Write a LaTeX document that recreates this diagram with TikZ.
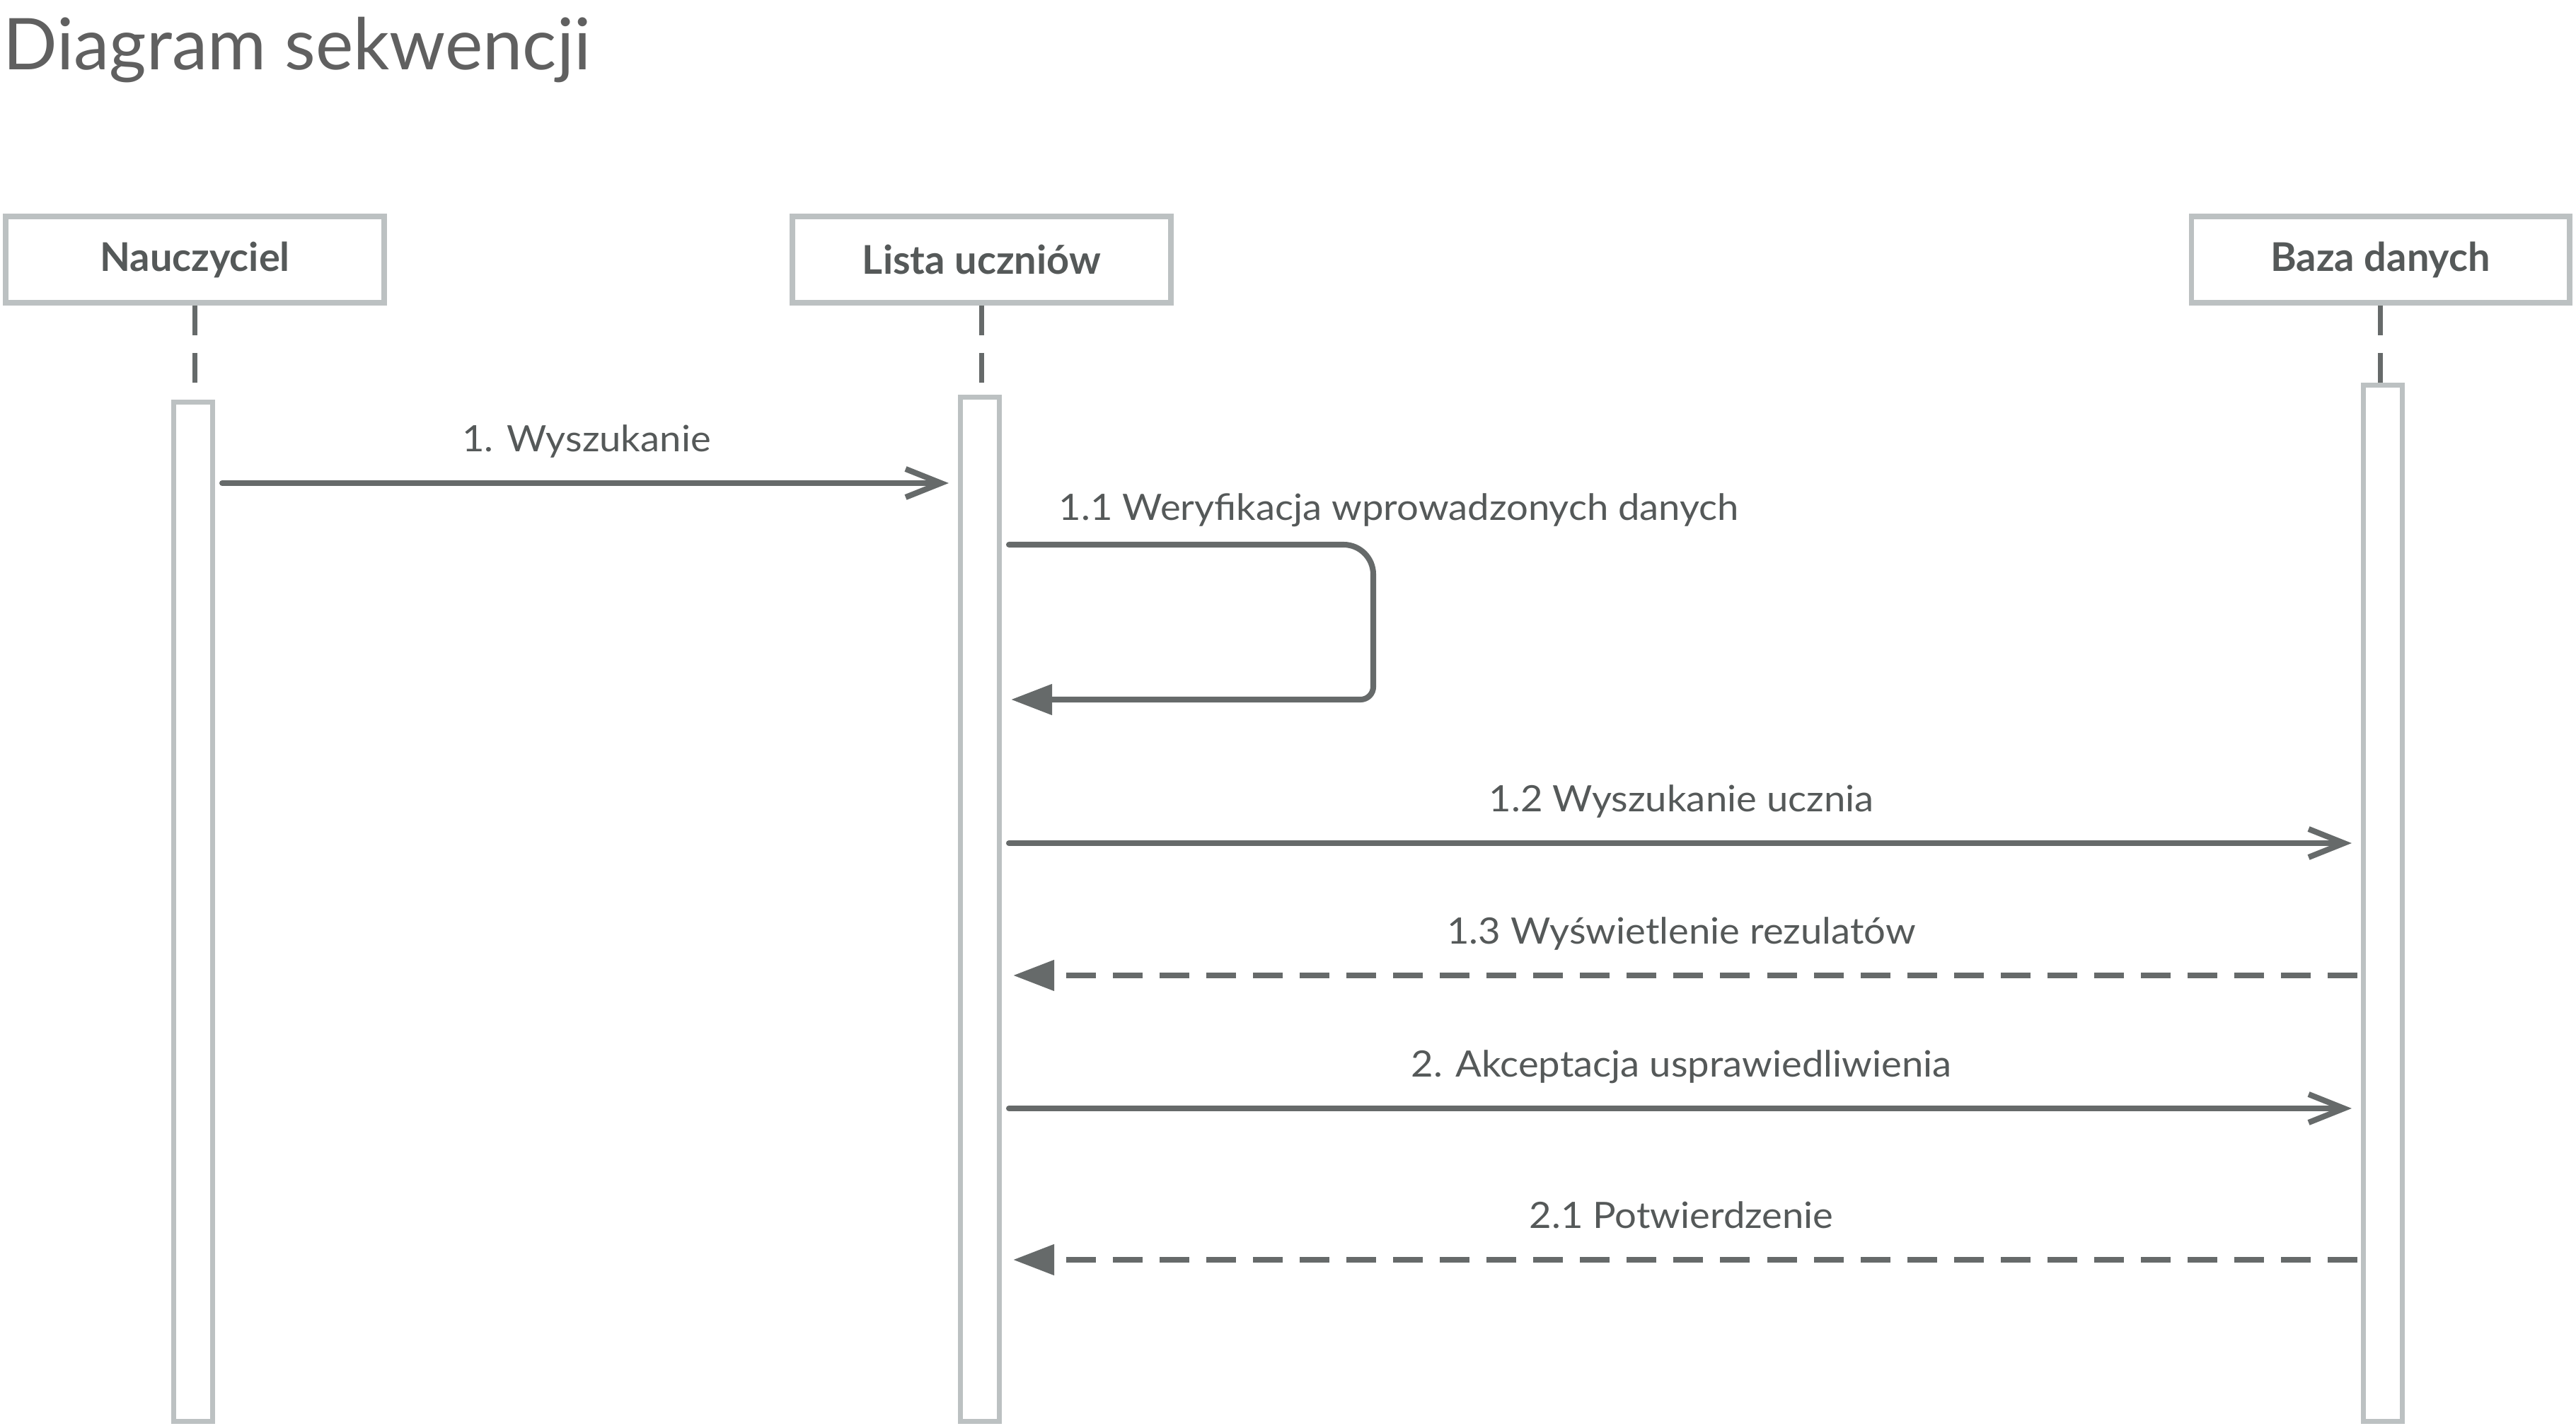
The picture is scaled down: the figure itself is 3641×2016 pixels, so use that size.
\documentclass[tikz,border=0pt]{standalone}
\usepackage{fontspec}
\setmainfont{Lato}
\newfontfamily\lblfont{Lato}[FakeStretch=1.06]
\usetikzlibrary{arrows.meta}
\definecolor{boxgrey}{HTML}{BCC1C2}
\definecolor{linegrey}{HTML}{666A6A}
\definecolor{textgrey}{HTML}{555959}
\definecolor{titlegrey}{HTML}{606060}

\begin{document}
\begin{tikzpicture}[x=0.01cm,y=-0.01cm,
    actor/.style={draw=boxgrey, line width=2.2pt, fill=white, minimum width=5.34cm, minimum height=1.22cm, font=\fontsize{15.9}{18}\selectfont\bfseries, text=textgrey},
    bar/.style={draw=boxgrey, line width=2pt, fill=white, minimum width=0.55cm, inner sep=0pt},
    life/.style={draw=linegrey, line width=2.2pt, dash pattern=on 0.42cm off 0.25cm},
    call/.style={draw=linegrey, line width=2.3pt, line cap=round, -{Straight Barb[length=0.5cm,width=0.4cm]}, shorten <=0.1cm, shorten >=0.13cm},
    reply/.style={draw=linegrey, line width=2.3pt, dash pattern=on 0.42cm off 0.24cm, -{Triangle[length=0.58cm,width=0.42cm]}, shorten <=0.05cm, shorten >=0.16cm},
    lbl/.style={font=\lblfont\fontsize{14.6}{17}\selectfont, text=textgrey},
    msglbl/.style={lbl, anchor=base, yshift=0.44cm}]
    \useasboundingbox (0,0) rectangle (3641,2016);

    \node[anchor=base west, inner sep=0pt, font=\fontsize{28.7}{32}\selectfont, text=titlegrey] (title) at (4,99) {Diagram sekwencji};

    \node[actor] (nau) at (275.5,367) {Nauczyciel};
    \node[actor] (lista) at (1387.5,367) {Lista uczniów};
    \node[actor] (baza) at (3364.5,367) {Baza danych};

    \node[bar, minimum height=14.41cm] (nauA) at (273,1289) {};
    \node[bar, minimum height=14.48cm] (listaA) at (1385,1285.5) {};
    \node[bar, minimum height=14.65cm] (bazaA) at (3368,1277) {};

    \draw[life] (nau.south) -- (nau.south |- nauA.north);
    \draw[life] (lista.south) -- (lista.south |- listaA.north);
    \draw[life] (baza.south) -- (baza.south |- bazaA.north);

    \coordinate (m1) at (0,683);
    \coordinate (m2a) at (0,770);
    \coordinate (m2b) at (0,989);
    \coordinate (loopx) at (1941,0);
    \coordinate (m3) at (0,1192);
    \coordinate (m4) at (0,1379);
    \coordinate (m5) at (0,1567);
    \coordinate (m6) at (0,1781);

    \draw[call] (nauA.east |- m1) -- node[msglbl] {1. Wyszukanie} (listaA.west |- m1);
    \draw[call, -{Triangle[length=0.58cm,width=0.42cm]}] (listaA.east |- m2a)
        node[lbl, anchor=base west, xshift=0.65cm, yshift=0.34cm] {1.1 Weryfikacja wprowadzonych danych}
        [rounded corners=0.42cm] -- (loopx |- m2a) [rounded corners=0.18cm] -- (loopx |- m2b) -- (listaA.east |- m2b);
    \draw[call] (listaA.east |- m3) -- node[msglbl] {1.2 Wyszukanie ucznia} (bazaA.west |- m3);
    \draw[reply] (bazaA.west |- m4) -- node[msglbl] {1.3 Wyświetlenie rezulatów} (listaA.east |- m4);
    \draw[call] (listaA.east |- m5) -- node[msglbl] {2. Akceptacja usprawiedliwienia} (bazaA.west |- m5);
    \draw[reply] (bazaA.west |- m6) -- node[msglbl] {2.1 Potwierdzenie} (listaA.east |- m6);
\end{tikzpicture}
\end{document}
